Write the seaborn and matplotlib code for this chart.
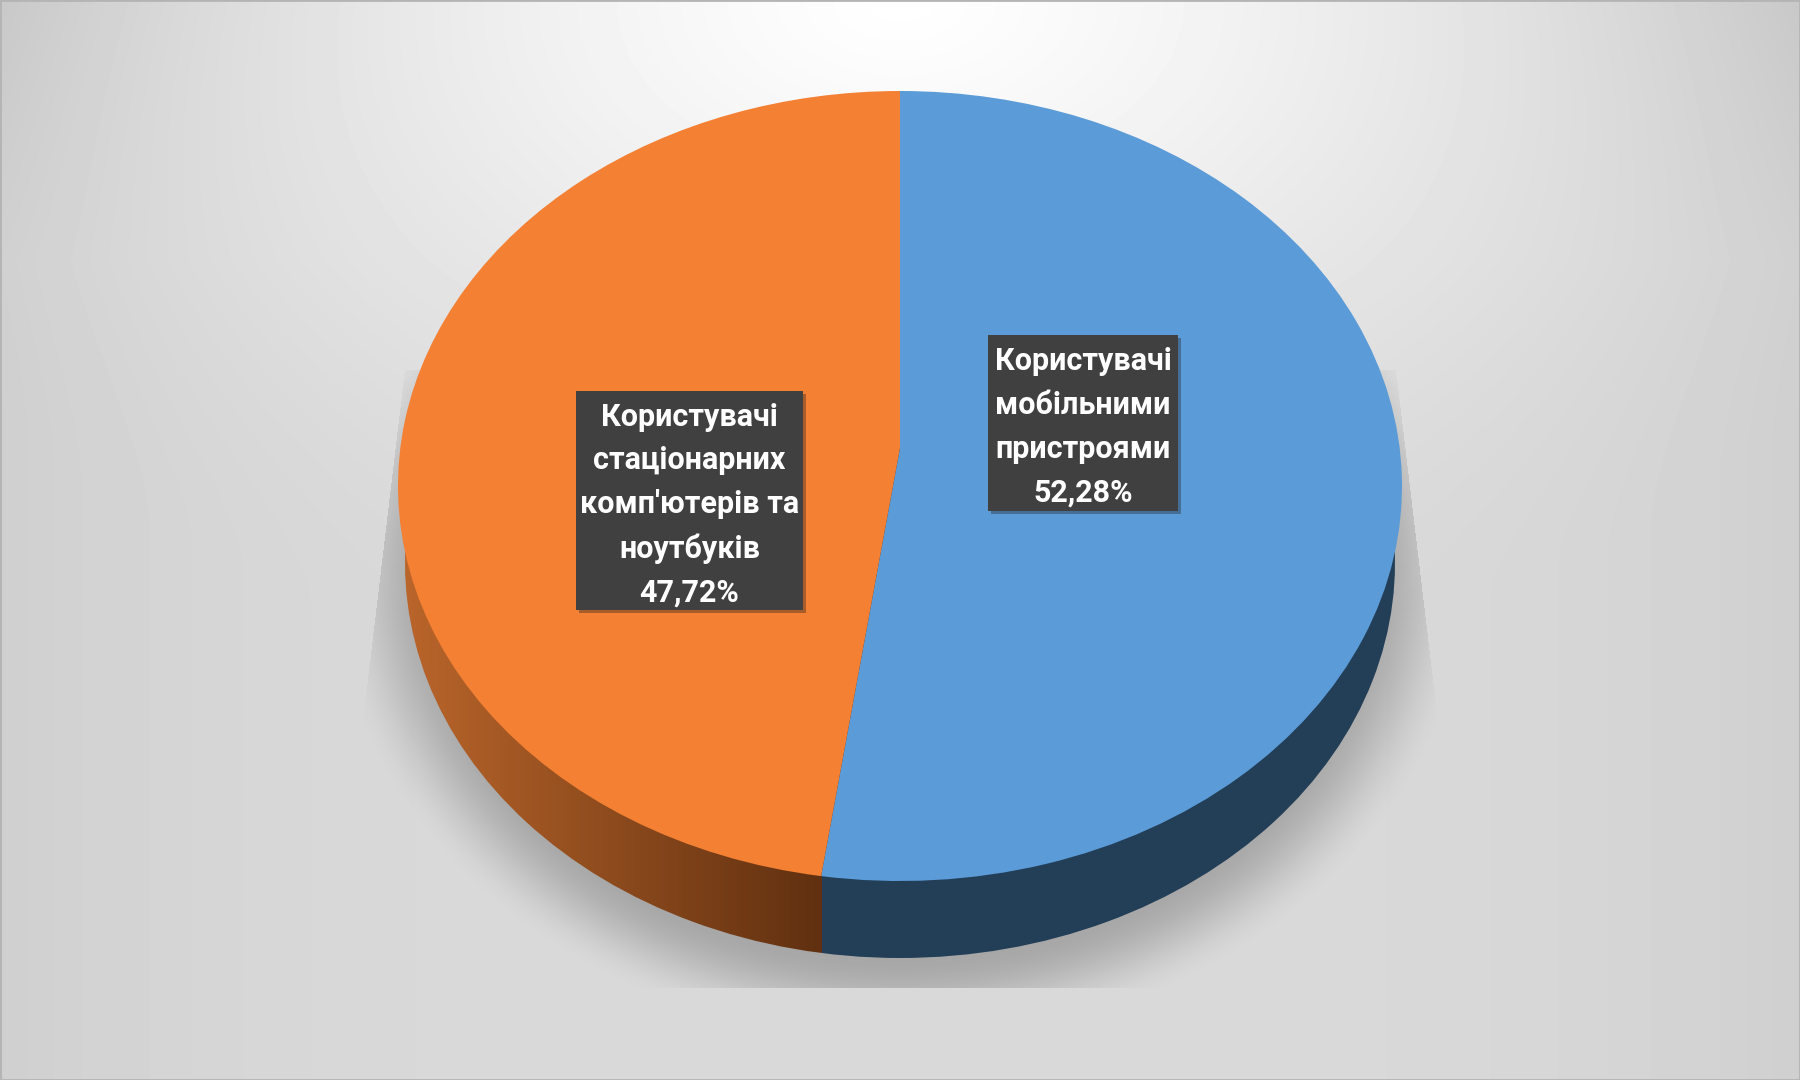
import numpy as np
import seaborn as sns
import matplotlib.pyplot as plt
import matplotlib.patheffects as pe
from matplotlib.patches import Rectangle
from matplotlib.transforms import Transform

names = ['Користувачі\nмобільними\nпристроями', "Користувачі\nстаціонарних\nкомп'ютерів та\nноутбуків"]
values = [52.28, 47.72]
colors = ['#5B9BD7', '#F38033']

sns.set_theme(style='white')
plt.rcParams['font.family'] = ['Roboto', 'DejaVu Sans']

W, H = 1800, 1080
fig = plt.figure(figsize=(18, 10.8), dpi=100)
ax = fig.add_axes([0, 0, 1, 1])


# круг у перспективі: центр сектора зміщений вгору відносно центру еліпса
class Persp(Transform):
    input_dims = 2
    output_dims = 2
    has_inverse = False

    def __init__(self, cx, cy, rx, ry, k):
        super().__init__()
        self.cx, self.cy, self.ry, self.k = cx, cy, ry, k
        self.c = rx * np.sqrt(1 - k ** 2)

    def transform_non_affine(self, v):
        v = np.asarray(v, dtype=float)
        w = 1 + self.k * v[:, 1]
        return np.c_[self.cx + self.c * v[:, 0] / w,
                     self.cy + self.ry * (v[:, 1] + self.k) / w]


top = Persp(900, H - 486, 502, 395, 0.0962)
low = Persp(900, H - 563, 495, 395, 0.0962)

# фон
xx, yy = np.meshgrid(np.arange(W), np.arange(H))
d = np.sqrt(((xx - 900) / 1150) ** 2 + (yy / 700) ** 2)
u = np.clip(1 - d, 0, 1)
bg = 217 + 38 * u * u * (3 - 2 * u) ** 0.6
bg -= 10 * (np.abs(xx - 900) / 900) ** 4
bg -= 10 * np.clip(1 - yy / 260, 0, 1) * (np.abs(xx - 900) / 900) ** 3
ax.imshow(bg, cmap='gray', vmin=0, vmax=255, extent=(0, W, 0, H), origin='upper', zorder=0)

# тінь під діаграмою
d2 = np.sqrt(((xx - 900) / 540) ** 2 + ((yy - 574) / 445) ** 2)
shade = np.clip((1.06 - d2) / 0.2, 0, 1)
shade = shade * shade * (3 - 2 * shade)
left = 402 - (yy - 390) * 37 / 310
right = 1398 + (yy - 390) * 37 / 310
shade[(xx < left) | (xx > right) | (yy < 370) | (yy > 987)] = 0
rgba = np.zeros((H, W, 4))
rgba[..., :3] = 0.2
rgba[..., 3] = shade * 0.3
ax.imshow(rgba, extent=(0, W, 0, H), origin='upper', zorder=1)

# бічна стінка
side, _ = ax.pie([sum(values)], startangle=90, radius=1)
side = side[0]
side.set_transform(low + ax.transData)
side.set_visible(False)

ang = np.deg2rad(90 - 360 * values[0] / sum(values))
split_x = top.transform_non_affine(np.array([[np.cos(ang), np.sin(ang)]]))[0, 0]
xs = np.arange(W)
t = np.clip((xs - 398) / (split_x - 398), 0, 1)[:, None]
wall = (1 - t) * np.array([0xBB, 0x66, 0x2B]) + t * np.array([0x60, 0x30, 0x10])
wall[xs >= split_x] = [0x23, 0x3E, 0x57]
im = ax.imshow(wall[None, :, :] / 255, extent=(0, W, 0, H), origin='upper',
               interpolation='nearest', zorder=2)
im.set_clip_path(side)

# верхня площина
wedges, _ = ax.pie(values, colors=colors, startangle=90, counterclock=False, radius=1,
                   wedgeprops={'linewidth': 0})
for w in wedges:
    w.set_transform(top + ax.transData)
    w.set_zorder(3)

ax.set_aspect('auto')
ax.set_xlim(0, W)
ax.set_ylim(0, H)
ax.axis('off')

# підписи
boxes = [(988, 335, 190, 176), (576, 391, 227, 219)]
for name, val, (bx, by, bw, bh) in zip(names, values, boxes):
    r = Rectangle((bx, H - by - bh), bw, bh, fc='#404040', ec='none', zorder=4)
    r.set_path_effects([pe.SimplePatchShadow(offset=(2, -2), alpha=0.35, shadow_rgbFace='k'), pe.Normal()])
    ax.add_patch(r)
    label = name + '\n' + f'{val:.2f}'.replace('.', ',') + '%'
    ax.text(bx + bw / 2, H - by - bh / 2 - 4, label, color='white', fontsize=22, fontweight='bold',
            ha='center', va='center', linespacing=1.57, zorder=5, multialignment='center')

ax.add_patch(Rectangle((0, 0), W, H, fc='none', ec='#B4B4B4', lw=2, zorder=6, clip_on=True))

fig.savefig('out.png', dpi=100)
